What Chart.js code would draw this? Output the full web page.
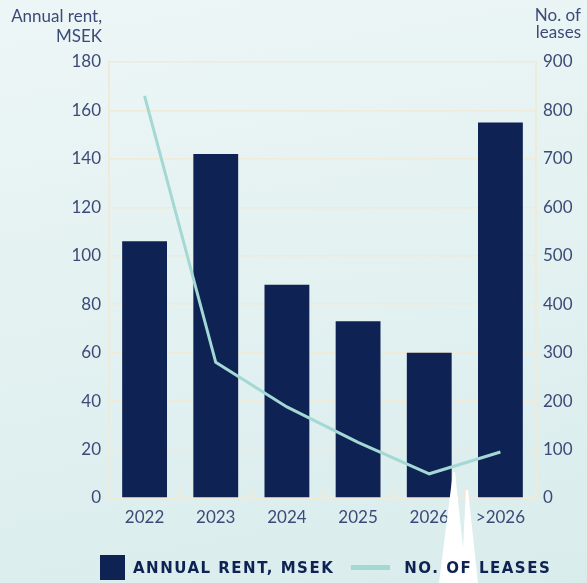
<!DOCTYPE html>
<html>
<head>
<meta charset="utf-8">
<script src="https://cdn.jsdelivr.net/npm/chart.js@4/dist/chart.umd.min.js"></script>
<style>
  html, body { margin: 0; padding: 0; }
  body {
    width: 587px; height: 583px; overflow: hidden; position: relative;
    background: linear-gradient(170deg, #edf6f6 0%, #e3f1f1 50%, #d9ecec 100%);
    font-family: Lato, "Open Sans", sans-serif;
    color: #3d4a78;
  }
  #wrap { position: absolute; left: 0; top: 0; width: 587px; height: 542px; }
  .axis-title { position: absolute; font-size: 17px; text-align: right; }
  #lt { right: 485px; top: 6px; line-height: 20px; }
  #rt { right: 6px; top: 6px; line-height: 17px; }
  #spike { position: absolute; left: 0; top: 0; pointer-events: none; }
  #legend {
    position: absolute; top: 555px; left: 100px;
    display: flex; align-items: center;
    font-family: "DejaVu Sans", sans-serif; font-weight: bold;
    font-size: 15px; color: #0e2253; letter-spacing: 1.5px;
  }
  .box { width: 25px; height: 25px; background: #0e2253; margin-right: 8px; }
  .ln { width: 39px; height: 5px; background: #a3d8d4; margin: 0 14px 0 17px; }
</style>
</head>
<body>
<div id="wrap"><canvas id="c"></canvas></div>
<div class="axis-title" id="lt">Annual rent,<br>MSEK</div>
<div class="axis-title" id="rt">No. of<br>leases</div>
<svg id="spike" width="587" height="583">
  <polygon points="453,472 455,472 463,548 466,490 468,490 478,583 439,583" fill="#ffffff"/>
</svg>
<div id="legend">
  <div class="box"></div><span>ANNUAL RENT, MSEK</span>
  <div class="ln"></div><span>NO. OF LEASES</span>
</div>
<script>
const years = ['2022', '2023', '2024', '2025', '2026', '>2026'];
const annualRent = [106, 142, 88, 73, 60, 155];
const leases = [830, 280, 188, 115, 50, 95];
const rentTicks = [0, 20, 40, 60, 80, 100, 120, 140, 160, 180];
const leaseTicks = [0, 100, 200, 300, 400, 500, 600, 700, 800, 900];

const tickColor = '#3d4a78';
const gridColor = '#f0ead8';
const tickFont = { family: 'Lato', size: 17 };

// short inward marks on the category axis between the year groups
const boundaryTicks = {
  id: 'boundaryTicks',
  afterDatasetsDraw(chart) {
    const x = chart.scales.x, ctx = chart.ctx;
    const bottom = chart.chartArea.bottom;
    ctx.save();
    ctx.strokeStyle = gridColor;
    ctx.lineWidth = 2;
    for (let i = 1; i < years.length; i++) {
      const px = (x.getPixelForValue(i - 1) + x.getPixelForValue(i)) / 2;
      ctx.beginPath();
      ctx.moveTo(px, bottom);
      ctx.lineTo(px, bottom - 10);
      ctx.stroke();
    }
    ctx.restore();
  }
};

new Chart(document.getElementById('c'), {
  data: {
    labels: years,
    datasets: [
      {
        type: 'line', label: 'NO. OF LEASES', data: leases, yAxisID: 'y1',
        borderColor: '#a3d8d4', borderWidth: 3, pointRadius: 0, tension: 0, order: 0
      },
      {
        type: 'bar', label: 'ANNUAL RENT, MSEK', data: annualRent, yAxisID: 'y',
        backgroundColor: '#0e2253', barPercentage: 0.63, categoryPercentage: 1, order: 1
      }
    ]
  },
  options: {
    responsive: true, maintainAspectRatio: false, animation: false,
    layout: { padding: { top: 62, left: 0, right: 0, bottom: 0 } },
    plugins: { legend: { display: false }, tooltip: { enabled: false } },
    scales: {
      x: {
        grid: { display: false, drawTicks: false },
        border: { display: true, color: gridColor, width: 2 },
        ticks: { color: tickColor, font: tickFont, padding: 9 },
        afterFit(s) { s.height = 44; }
      },
      y: {
        position: 'left', min: 0, max: 180,
        afterBuildTicks(s) { s.ticks = rentTicks.map(v => ({ value: v })); },
        grid: { color: gridColor, lineWidth: 1.5, drawTicks: false },
        border: { display: true, color: gridColor, width: 2 },
        ticks: { color: tickColor, font: tickFont, padding: 8 },
        afterFit(s) { s.width = 109; }
      },
      y1: {
        position: 'right', min: 0, max: 900,
        afterBuildTicks(s) { s.ticks = leaseTicks.map(v => ({ value: v })); },
        grid: { display: false, drawTicks: false },
        border: { display: true, color: gridColor, width: 2 },
        ticks: { color: tickColor, font: tickFont, padding: 7 },
        afterFit(s) { s.width = 51; }
      }
    }
  },
  plugins: [boundaryTicks]
});
</script>
</body>
</html>
